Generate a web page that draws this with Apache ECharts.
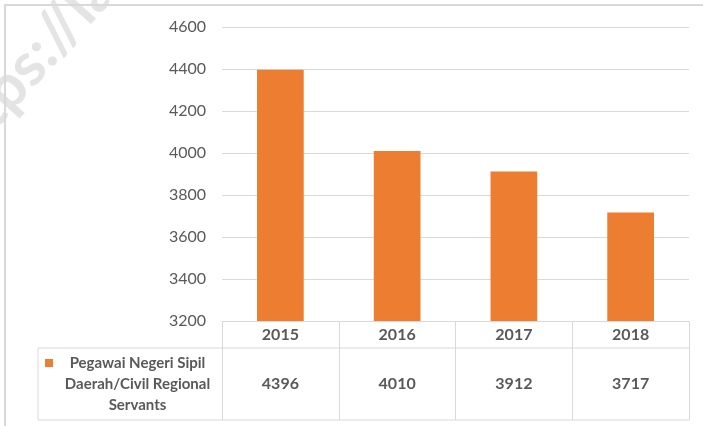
<html>
<head>
<meta charset="utf-8">
<title>PNS Daerah</title>
<script src="https://cdn.jsdelivr.net/npm/echarts@6/dist/echarts.min.js"></script>
<style>html,body{margin:0;padding:0;background:#fff;}</style>
</head>
<body>
<div id="main" style="width:703px;height:426px;"></div>
<script type="text/javascript">
// data
var years = ['2015', '2016', '2017', '2018'];
var pns = [4396, 4010, 3912, 3717];
var seriesName = 'Pegawai Negeri Sipil\nDaerah/Civil Regional\nServants';

var gray = '#595959';
var lineCol = '#d9d9d9';
var font = 'Lato, "Open Sans", sans-serif';

var myChart = echarts.init(document.getElementById('main'));

// table below the plot (header row + value row)
var tblLeft = 38, gLeft = 222, gRight = 689, hdrTop = 321, rowTop = 348, rowBot = 420;

myChart.setOption({
    animation: false,
    grid: { left: gLeft, right: 703 - gRight, top: 27, bottom: 426 - hdrTop },
    xAxis: {
        type: 'category',
        data: years,
        axisLine: { show: true, lineStyle: { color: lineCol, width: 1 } },
        axisTick: { show: true, length: rowBot - hdrTop, lineStyle: { color: lineCol } },
        axisLabel: {
            margin: 0,
            verticalAlign: 'top',
            formatter: function (v, i) {
                return '{y|' + v + '}\n{v|' + pns[i] + '}';
            },
            rich: {
                y: { fontFamily: font, fontWeight: 'bold', fontSize: 16, color: gray, lineHeight: rowTop - hdrTop },
                v: { fontFamily: font, fontWeight: 'bold', fontSize: 16, color: gray, lineHeight: rowBot - rowTop }
            }
        }
    },
    yAxis: {
        type: 'value',
        min: 3200,
        max: 4600,
        interval: 200,
        axisLine: { show: false },
        axisTick: { show: false },
        axisLabel: { margin: 16, fontFamily: font, fontSize: 16, color: gray,
                     formatter: function (v) { return String(v); } },
        splitLine: { lineStyle: { color: lineCol, width: 1 } }
    },
    series: [{
        name: seriesName,
        type: 'bar',
        barWidth: '40%',
        itemStyle: { color: '#ED7D31' },
        data: pns
    }],
    graphic: [
        // watermark (mostly cut off by the page edge)
        {
            type: 'text', x: -55, y: 158, rotation: 0.84, z: 0,
            style: { text: 'https://lampung', textAlign: 'left', fill: '#e4e4e4',
                     font: 'bold 60px ' + font, textVerticalAlign: 'middle' }
        },
        // outer frame
        { type: 'rect', z: 1, shape: { x: 5, y: 5, width: 720, height: 440 },
          style: { fill: 'none', stroke: lineCol, lineWidth: 2 } },
        // table lines
        { type: 'line', shape: { x1: tblLeft, y1: rowTop, x2: gRight, y2: rowTop }, style: { stroke: lineCol, lineWidth: 1 } },
        { type: 'line', shape: { x1: tblLeft, y1: rowBot, x2: gRight, y2: rowBot }, style: { stroke: lineCol, lineWidth: 1 } },
        { type: 'line', shape: { x1: tblLeft, y1: rowTop, x2: tblLeft, y2: rowBot }, style: { stroke: lineCol, lineWidth: 1 } },
        // legend key
        { type: 'rect', shape: { x: 45, y: 359, width: 8, height: 8 }, style: { fill: '#ED7D31' } },
        { type: 'text', x: 137.5, y: 384,
          style: { text: seriesName, textAlign: 'center', textVerticalAlign: 'middle', lineHeight: 21,
                   font: 'bold 15px ' + font, fill: gray } }
    ]
});
</script>
</body>
</html>
